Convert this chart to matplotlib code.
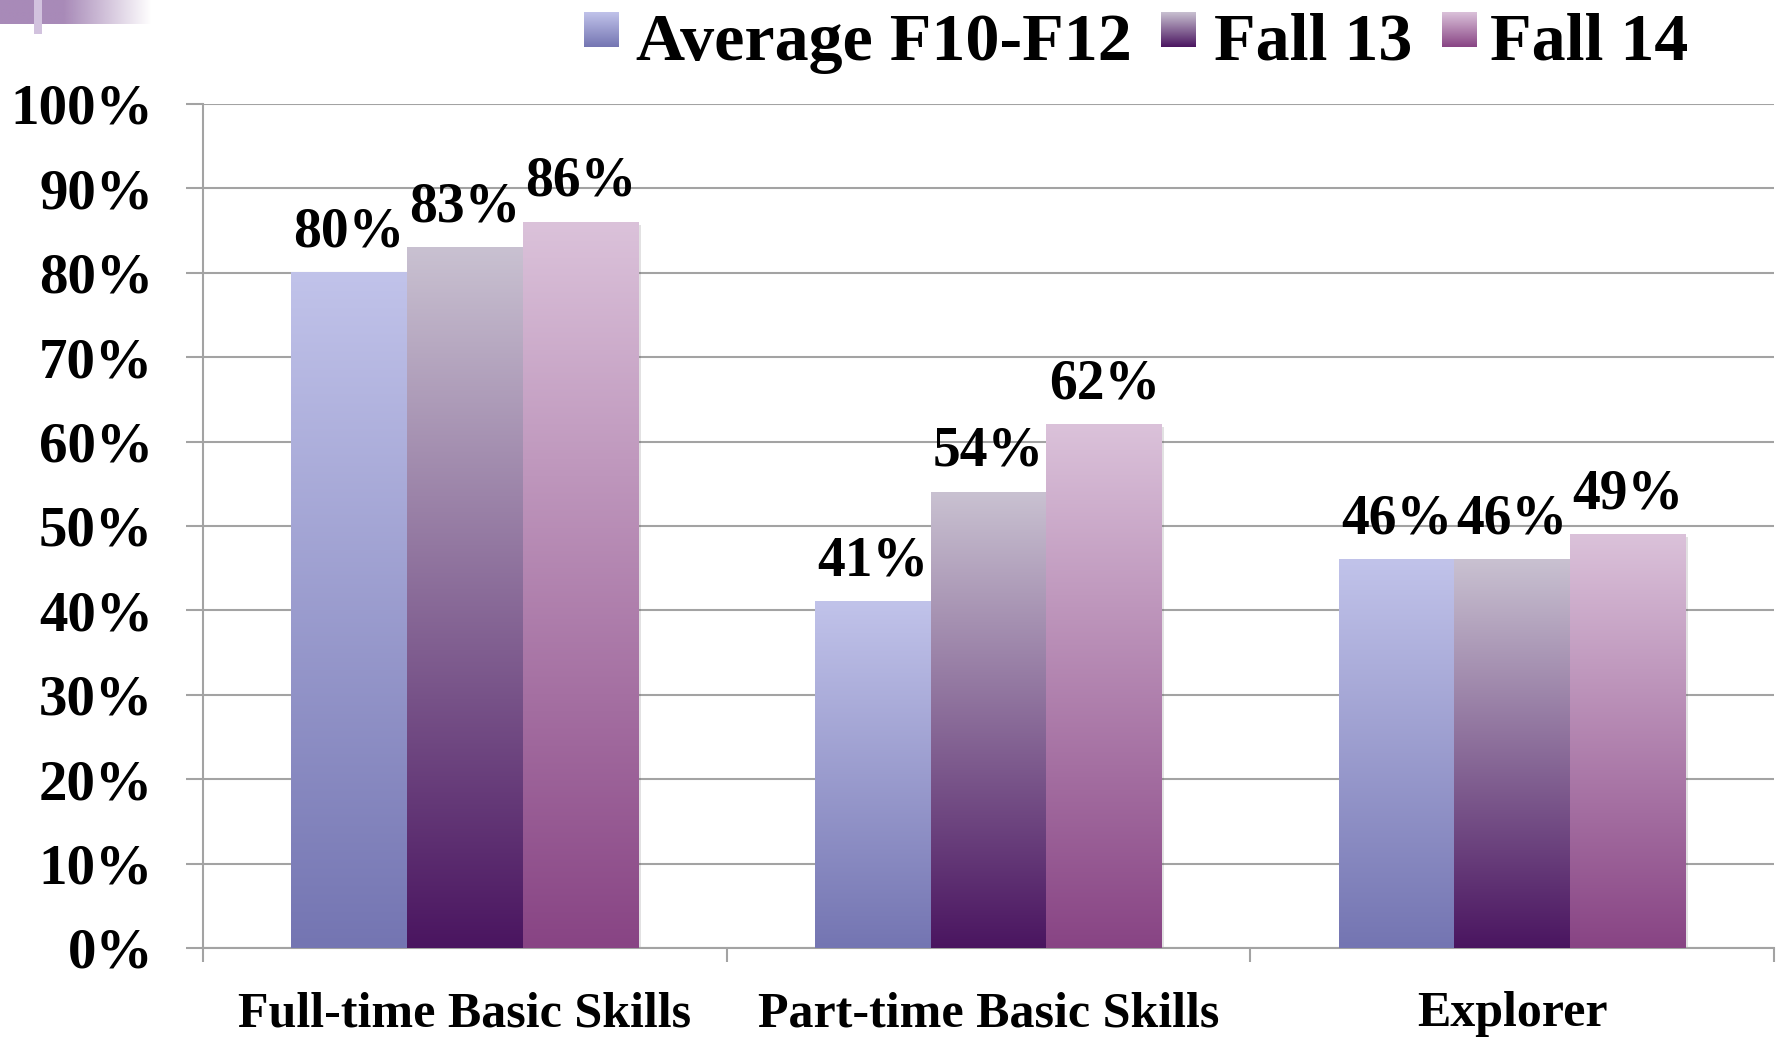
import numpy as np
import matplotlib
matplotlib.use("Agg")
import matplotlib.pyplot as plt
from matplotlib.colors import LinearSegmentedColormap
import matplotlib.patheffects as pe

# --- data ---
categories = ["Full-time Basic Skills", "Part-time Basic Skills", "Explorer"]
series_names = ["Average F10-F12", "Fall 13", "Fall 14"]
avg_f10_f12 = [80, 41, 46]
fall_13 = [83, 54, 46]
fall_14 = [86, 62, 49]
y_ticks = [0, 10, 20, 30, 40, 50, 60, 70, 80, 90, 100]

# top / bottom colours of each series' gradient
grad_colors = [("#C1C3EA", "#7475B2"),
               ("#C9C1D1", "#4A1560"),
               ("#DBC2DA", "#884484")]

plt.rcParams["font.family"] = ["Liberation Serif", "DejaVu Serif"]
plt.rcParams["font.weight"] = "bold"

W, H = 1776, 1039
fig = plt.figure(figsize=(W / 100, H / 100), dpi=100)
ax = fig.add_axes([203 / W, 1 - 948 / H, (1774 - 203) / W, (948 - 104) / H])

grid_c = "#A3A3A3"
ramp = np.linspace(1, 0, 256).reshape(-1, 1)  # top=1 (light), bottom=0 (dark)

x = np.arange(len(categories))
bw = 0.221
all_series = [avg_f10_f12, fall_13, fall_14]
for i, vals in enumerate(all_series):
    top, bot = grad_colors[i]
    cmap = LinearSegmentedColormap.from_list(f"g{i}", [bot, top])
    bars = ax.bar(x + (i - 1) * bw, vals, bw, color=top, zorder=2,
                  path_effects=[pe.SimplePatchShadow(offset=(1.5, -2), alpha=0.15),
                                pe.Normal()])
    for b in bars:
        x0, w, h = b.get_x(), b.get_width(), b.get_height()
        ax.imshow(ramp, cmap=cmap, vmin=0, vmax=1, aspect="auto",
                  extent=[x0, x0 + w, 0, h], interpolation="bicubic", zorder=3)
        ax.annotate(f"{h:.0f}%", (x0 + w / 2, h), xytext=(0, 19),
                    textcoords="offset points", ha="center", va="baseline",
                    fontsize=40, fontweight="bold", zorder=5)

ax.set_xlim(-0.5, 2.5)
ax.set_ylim(0, 100)
ax.set_yticks(y_ticks, labels=[f"{v}%" for v in y_ticks])
ax.yaxis.grid(True, color=grid_c, linewidth=1.5, zorder=0)
ax.set_axisbelow(True)
ax.tick_params(axis="y", length=12, width=1.5, color=grid_c, pad=24, labelsize=41)

ax.set_xticks([-0.5, 0.5, 1.5, 2.5], labels=[])
ax.set_xticks(x, labels=categories, minor=True)
ax.tick_params(axis="x", which="major", length=10, width=1.5, color=grid_c)
ax.tick_params(axis="x", which="minor", length=0, pad=31, labelsize=36)

for s in ["top", "right"]:
    ax.spines[s].set_visible(False)
for s in ["left", "bottom"]:
    ax.spines[s].set_color(grid_c)
    ax.spines[s].set_linewidth(1.5)

# --- legend (manual, with gradient swatches) ---
sw_x = [584, 1161, 1442]
tx_x = [636, 1214, 1490]
for i, name in enumerate(series_names):
    top, bot = grad_colors[i]
    cmap = LinearSegmentedColormap.from_list(f"l{i}", [bot, top])
    sax = fig.add_axes([sw_x[i] / W, 1 - 47 / H, 35 / W, 35 / H])
    sax.imshow(ramp, cmap=cmap, vmin=0, vmax=1, aspect="auto", interpolation="bicubic")
    sax.axis("off")
    fig.text(tx_x[i] / W, 1 - 60 / H, name, fontsize=49, fontweight="bold",
             ha="left", va="baseline")

# --- decorative corner ---
dax = fig.add_axes([0, 1 - 34 / H, 150 / W, 34 / H])
dax.set_xlim(0, 150)
dax.set_ylim(34, 0)
fade = np.ones((1, 150, 4))
base = np.array(matplotlib.colors.to_rgb("#A88AB8"))
fade[0, :, :3] = base
alpha = np.clip(1 - (np.arange(150) - 63) / 87, 0, 1)
fade[0, :, 3] = alpha
dax.imshow(fade, extent=[0, 150, 24, 0], aspect="auto", interpolation="bilinear")
dax.add_patch(plt.Rectangle((34, 0), 8, 34, color="#D2C2DE", lw=0))
dax.axis("off")

fig.savefig("out.png", dpi=100)
